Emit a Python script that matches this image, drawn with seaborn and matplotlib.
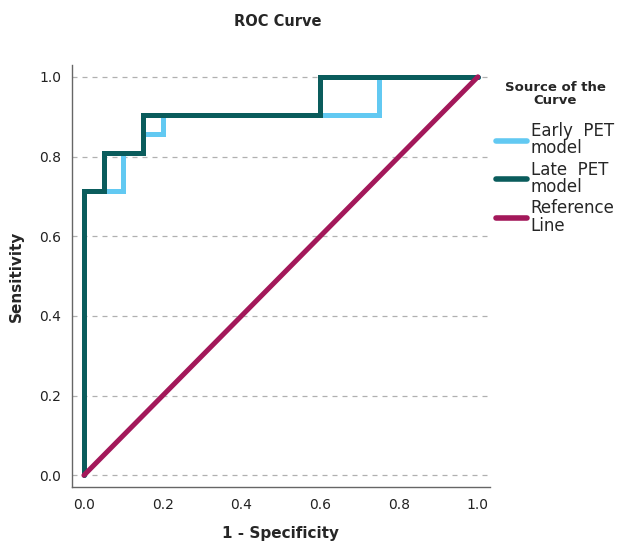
import pandas as pd
import numpy as np
import matplotlib
matplotlib.use("Agg")
import matplotlib.pyplot as plt
import seaborn as sns

# ROC steps (x = 1 - specificity, y = sensitivity)
early_fpr = [0.0, 0.0, 0.10, 0.10, 0.15, 0.15, 0.20, 0.20, 0.75, 0.75, 1.0]
early_tpr = [0.0, 0.714, 0.714, 0.810, 0.810, 0.857, 0.857, 0.905, 0.905, 1.0, 1.0]
late_fpr = [0.0, 0.0, 0.05, 0.05, 0.15, 0.15, 0.60, 0.60, 1.0]
late_tpr = [0.0, 0.714, 0.714, 0.810, 0.810, 0.905, 0.905, 1.0, 1.0]
ref_fpr = [0.0, 1.0]
ref_tpr = [0.0, 1.0]

labels = ["Early  PET\nmodel", "Late  PET\nmodel", "Reference\nLine"]
colors = ["#62C9F2", "#0A5C5C", "#A3185A"]

df = pd.concat([
    pd.DataFrame({"fpr": early_fpr, "tpr": early_tpr, "curve": labels[0]}),
    pd.DataFrame({"fpr": late_fpr, "tpr": late_tpr, "curve": labels[1]}),
    pd.DataFrame({"fpr": ref_fpr, "tpr": ref_tpr, "curve": labels[2]}),
])

sns.set_style("white")
fig = plt.figure(figsize=(6.27, 5.45), dpi=100)
ax = fig.add_axes([0.115, 0.106, 0.666, 0.775])

# gridlines first so the curves sit on top
for yv in [0.0, 0.2, 0.4, 0.6, 0.8, 1.0]:
    ax.axhline(yv, color="#b0b0b0", lw=0.9, ls=(0, (4, 4)), zorder=0)

sns.lineplot(data=df, x="fpr", y="tpr", hue="curve", hue_order=labels,
             palette=colors, sort=False, estimator=None,
             linewidth=3.6, ax=ax, legend=True)
for ln in ax.lines:
    ln.set_solid_capstyle("round")
    ln.set_solid_joinstyle("miter")

ax.set_xlim(-0.03, 1.03)
ax.set_ylim(-0.03, 1.03)
ax.set_xticks([0.0, 0.2, 0.4, 0.6, 0.8, 1.0])
ax.set_yticks([0.0, 0.2, 0.4, 0.6, 0.8, 1.0])
ax.set_xticklabels(["0.0", "0.2", "0.4", "0.6", "0.8", "1.0"])
ax.set_yticklabels(["0.0", "0.2", "0.4", "0.6", "0.8", "1.0"])
ax.tick_params(axis="both", length=0, labelsize=10, colors="#222222", pad=8)
ax.grid(False)

sns.despine(ax=ax)
for s in ["left", "bottom"]:
    ax.spines[s].set_color("#666666")
    ax.spines[s].set_linewidth(1.0)

ax.set_xlabel("1 - Specificity", fontsize=11, fontweight="bold", labelpad=10)
ax.set_ylabel("Sensitivity", fontsize=11, fontweight="bold", labelpad=11)
fig.text(0.443, 0.96, "ROC Curve", ha="center", va="center", fontsize=10.5, fontweight="bold")

leg = ax.legend(title="Source of the\nCurve", loc="upper left", bbox_to_anchor=(0.99, 0.985),
                frameon=False, fontsize=12, handlelength=1.9, handletextpad=0.2,
                labelspacing=0.2, borderaxespad=0.2,
                title_fontproperties={"weight": "bold", "size": 9.5})
leg.get_title().set_multialignment("center")
leg.get_title().set_linespacing(0.95)
leg._legend_box.sep = 11
for h in leg.legend_handles:
    h.set_linewidth(4)
    h.set_solid_capstyle("round")
for t in leg.get_texts():
    t.set_linespacing(0.95)

fig.savefig("out.png", dpi=100)
